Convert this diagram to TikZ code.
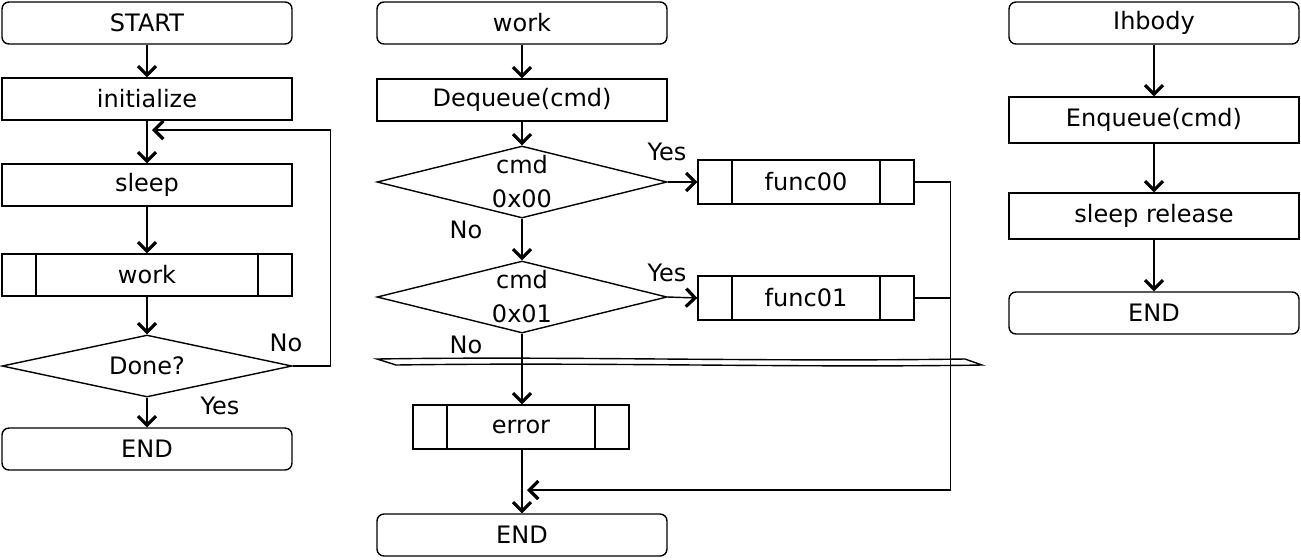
\documentclass[tikz,border=0pt]{standalone}
\usepackage{fontspec}
\setmainfont{DejaVu Sans}
\usetikzlibrary{shapes.geometric,arrows.meta}

\tikzset{
  box/.style={draw, line width=0.7pt, minimum height=21pt, inner sep=0pt,
    font=\fontsize{12}{17}\selectfont},
  term/.style={box, rounded corners=3.5pt, minimum width=145pt},
  proc/.style={box, minimum width=145pt},
  subproc/.style={box, minimum width=#1, path picture={
    \draw[line width=0.7pt]
      ([xshift=17pt]path picture bounding box.north west) -- ([xshift=17pt]path picture bounding box.south west)
      ([xshift=-17pt]path picture bounding box.north east) -- ([xshift=-17pt]path picture bounding box.south east);}},
  subproc/.default=145pt,
  decision/.style={box, diamond, aspect=4, inner xsep=0pt, inner ysep=-3pt,
    minimum width=145pt, align=center},
  flow/.style={line width=0.7pt, -{Straight Barb[length=4.5pt,width=9pt,line width=1.6pt]}},
  link/.style={line width=0.7pt},
  lbl/.style={font=\fontsize{12}{14}\selectfont}
}

\begin{document}
\begin{tikzpicture}[x=0.5pt, y=-0.5pt]
\useasboundingbox (0,0) rectangle (1301,559);

% main loop
\node[term] (start) at (147,23) {START};
\node[proc] (init) at (147,99) {initialize};
\node[proc] (sleep) at (147,185) {sleep};
\node[subproc] (work) at (147,275) {work};
\node[decision, minimum height=31pt] (done) at (147,366) {Done?};
\node[term] (end1) at (147,449) {END};
\coordinate (back) at (152,130);
\draw[flow] (start) -- (init);
\draw[flow] (init) -- (sleep);
\draw[flow] (sleep) -- (work);
\draw[flow] (work) -- (done);
\draw[flow] (done) -- (end1);
\draw[flow] (done.east) -- ++(38,0) |- (back);
\node[lbl] (no1) at (286,343) {No};
\node[lbl] (yes1) at (220,406) {Yes};

% work
\node[term] (work2) at (522,23) {work};
\node[proc] (deq) at (522,100) {Dequeue(cmd)};
\node[decision, minimum height=36pt] (cmd0) at (522,182) {cmd\\0x00};
\node[subproc=108pt, minimum height=22pt] (func0) at (806,182) {func00};
\node[decision, minimum height=36pt] (cmd1) at (522,297) {cmd\\0x01};
\node[subproc=108pt, minimum height=22pt] (func1) at (806,298) {func01};
\node[subproc=108pt, minimum height=22pt] (err) at (521,427) {error};
\node[term] (end2) at (522,535) {END};
\coordinate (merge) at (527,490);
\draw[flow] (work2) -- (deq);
\draw[flow] (deq) -- (cmd0);
\draw[flow] (cmd0.east) -- (func0.west);
\draw[flow] (cmd0) -- (cmd1);
\draw[flow] (cmd1.east) -- (func1.west);
\draw[flow] (cmd1.south) -- (err.north -| cmd1.south);
\draw[flow] (err.south -| end2.north) -- (end2);
\draw[flow] (func0.east) -- ++(36,0) |- (merge);
\draw[link] (func1.east) -- ++(36,0);
\node[lbl] (yes2) at (667,152) {Yes};
\node[lbl] (no2) at (466,230) {No};
\node[lbl] (yes3) at (667,273) {Yes};
\node[lbl] (no3) at (466,345) {No};
% break
\draw[link] (377,359) .. controls (560,356) and (760,362) .. (965,359) -- (982,365)
  .. controls (800,368) and (600,362) .. (396,365) -- cycle;

% handler
\node[term] (ih) at (1154,23) {Ihbody};
\node[proc, minimum height=23pt] (enq) at (1154,120) {Enqueue(cmd)};
\node[proc, minimum height=23pt] (rel) at (1154,216) {sleep release};
\node[term] (end3) at (1154,313) {END};
\draw[flow] (ih) -- (enq);
\draw[flow] (enq) -- (rel);
\draw[flow] (rel) -- (end3);
\end{tikzpicture}
\end{document}
